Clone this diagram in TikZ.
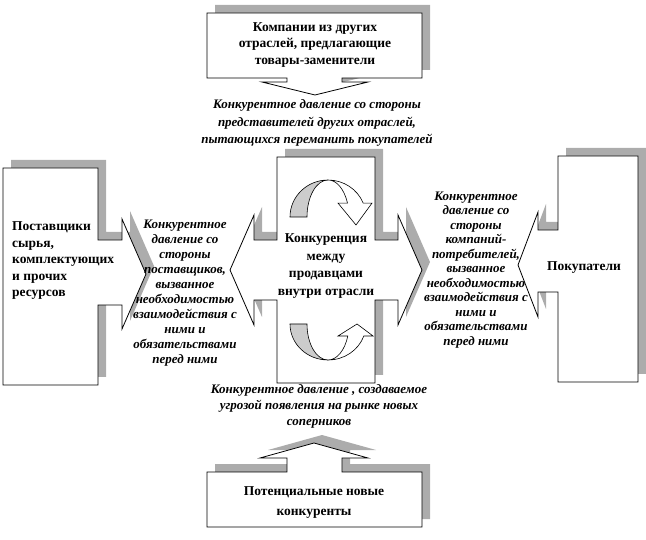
\documentclass[tikz,border=0pt]{standalone}
\usepackage{fontspec}
\setmainfont{Liberation Serif}

\begin{document}
\begin{tikzpicture}[x=1pt,y=-1pt,
    shade/.style={fill=gray!65,draw=none,shift={(8,-8)}},
    callout/.style={draw,fill=white,line width=0.8pt},
    band/.style={draw,line width=0.6pt},
    boxtext/.style={font=\bfseries\fontsize{13.5}{16.5}\selectfont,align=center,inner sep=0pt},
    pressure/.style={font=\bfseries\itshape\fontsize{13}{15}\selectfont,align=center,inner sep=0pt}]
  \useasboundingbox (0,0) rectangle (646,540);

  % shadows
  \fill[shade] (207,13) -- (422,13) -- (422,78) -- (342,78) -- (342,82) -- (368,82) -- (315,95) -- (262,82) -- (287,82) -- (287,78) -- (207,78) -- cycle;
  \fill[shade] (3,168) -- (98,168) -- (98,240) -- (122,240) -- (122,219) -- (146,274) -- (122,329) -- (122,305) -- (98,305) -- (98,385) -- (3,385) -- cycle;
  \fill[shade] (277,157) -- (375,157) -- (375,240) -- (398,240) -- (398,215) -- (422,270) -- (398,325) -- (398,300) -- (375,300) -- (375,383) -- (277,383) -- (277,300) -- (254,300) -- (254,325) -- (230,270) -- (254,215) -- (254,240) -- (277,240) -- cycle;
  \fill[shade] (558,156) -- (638,156) -- (638,382) -- (558,382) -- (558,292) -- (538,292) -- (538,317) -- (518,265) -- (538,212) -- (538,230) -- (558,230) -- cycle;
  \fill[shade] (207,472) -- (287,472) -- (287,458) -- (260,458) -- (314,443) -- (368,458) -- (342,458) -- (342,472) -- (422,472) -- (422,527) -- (207,527) -- cycle;

  % callouts
  \draw[callout] (207,13) -- (422,13) -- (422,78) -- (342,78) -- (342,82) -- (368,82) -- (315,95) -- (262,82) -- (287,82) -- (287,78) -- (207,78) -- cycle;
  \draw[callout] (3,168) -- (98,168) -- (98,240) -- (122,240) -- (122,219) -- (146,274) -- (122,329) -- (122,305) -- (98,305) -- (98,385) -- (3,385) -- cycle;
  \draw[callout] (277,157) -- (375,157) -- (375,240) -- (398,240) -- (398,215) -- (422,270) -- (398,325) -- (398,300) -- (375,300) -- (375,383) -- (277,383) -- (277,300) -- (254,300) -- (254,325) -- (230,270) -- (254,215) -- (254,240) -- (277,240) -- cycle;
  \draw[callout] (558,156) -- (638,156) -- (638,382) -- (558,382) -- (558,292) -- (538,292) -- (538,317) -- (518,265) -- (538,212) -- (538,230) -- (558,230) -- cycle;
  \draw[callout] (207,472) -- (287,472) -- (287,458) -- (260,458) -- (314,443) -- (368,458) -- (342,458) -- (342,472) -- (422,472) -- (422,527) -- (207,527) -- cycle;

  % curved arrows inside the rivalry box
  \draw[band,fill=gray!40] (290,217) arc[start angle=180,end angle=90,x radius=38pt,y radius=37pt]
    arc[start angle=90,end angle=180,x radius=21pt,y radius=37pt] -- cycle;
  \draw[band,fill=white] (328,180) arc[start angle=90,end angle=22,x radius=38pt,y radius=37pt]
    -- (372,203.1) -- (356,225) -- (338,203.1) -- (347.5,203.1)
    arc[start angle=22,end angle=90,x radius=21pt,y radius=37pt] -- cycle;
  \draw[band,fill=gray!40] (290,324) arc[start angle=180,end angle=270,x radius=38pt,y radius=36pt]
    arc[start angle=270,end angle=180,x radius=21pt,y radius=36pt] -- cycle;
  \draw[band,fill=white] (328,360) arc[start angle=270,end angle=340.5,x radius=38pt,y radius=36pt]
    -- (373,336) -- (357,324) -- (338,336) -- (347.8,336)
    arc[start angle=340.5,end angle=270,x radius=21pt,y radius=36pt] -- cycle;

  % texts
  \node[boxtext] (subst) at (315,45) {Компании из других\\отраслей, предлагающие\\товары-заменители};
  \node[pressure,font=\bfseries\itshape\fontsize{13}{17.5}\selectfont] (substpress) at (317,123)
    {Конкурентное давление со стороны\\представителей других отраслей,\\пытающихся переманить покупателей};
  \node[boxtext,align=left,anchor=west] (suppl) at (12,261) {Поставщики\\сырья,\\комплектующих\\и прочих\\ресурсов};
  \node[pressure] (supplpress) at (185,293) {Конкурентное\\давление со\\стороны\\поставщиков,\\вызванное\\необходимостью\\взаимодействия с\\ними и\\обязательствами\\перед ними};
  \node[boxtext,font=\bfseries\fontsize{13.5}{17.5}\selectfont] (rivals) at (326,266) {Конкуренция\\между\\продавцами\\внутри отрасли};
  \node[pressure,font=\bfseries\itshape\fontsize{13}{14.5}\selectfont] (buyerpress) at (476,270) {Конкурентное\\давление со\\стороны\\компаний-\\потребителей,\\вызванное\\необходимостью\\взаимодействия с\\ними и\\обязательствами\\перед ними};
  \node[boxtext] (buyers) at (584,268) {Покупатели};
  \node[pressure,font=\bfseries\itshape\fontsize{13}{16}\selectfont] (entrypress) at (319,406) {Конкурентное давление , создаваемое\\угрозой появления на рынке новых\\соперников};
  \node[boxtext,font=\bfseries\fontsize{13.5}{20}\selectfont] (entrants) at (314,503) {Потенциальные новые\\конкуренты};
\end{tikzpicture}
\end{document}
